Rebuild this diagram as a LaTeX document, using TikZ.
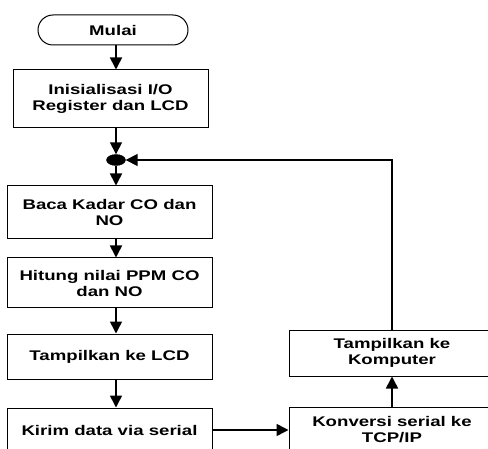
\documentclass[tikz,border=0pt]{standalone}
\usepackage{fontspec}
\newfontfamily\flowfont{Liberation Sans}[FakeStretch=1.33]
\usetikzlibrary{arrows.meta,shapes.geometric,shapes.misc}
\tikzset{
  blok/.style={draw,line width=1pt,align=center,inner sep=0pt,
    font=\flowfont\fontsize{14}{16}\selectfont\bfseries},
  panah/.style={line width=1.6pt,-{Triangle[width=12pt,length=12pt]}}
}

\begin{document}
\begin{tikzpicture}[x=1pt,y=1pt]
  \useasboundingbox (0,0) rectangle (488,448);
  \clip (0,0) rectangle (488,448);
  % kolom kiri
  \node[blok,rounded rectangle,minimum width=150,minimum height=30] (mulai) at (113,418) {Mulai};
  \node[blok,minimum width=195,minimum height=58] (init) at (110.5,349) {Inisialisasi I/O\\Register dan LCD};
  \node[draw,fill,ellipse,inner sep=0pt,minimum width=19,minimum height=11] (dot) at (116,288) {};
  \node[blok,minimum width=205,minimum height=53] (baca) at (109.5,235.5) {Baca Kadar CO dan\\NO};
  \node[blok,minimum width=205,minimum height=50] (hitung) at (109.5,165) {Hitung nilai PPM CO\\dan NO};
  \node[blok,minimum width=205,minimum height=45] (lcd) at (109.5,91.5) {Tampilkan ke LCD};
  \node[blok,minimum width=205,minimum height=44] (kirim) at (109.5,18) {Kirim data via serial};
  % kolom kanan
  \node[blok,minimum width=206,minimum height=46] (konv) at (392,18) {Konversi serial ke\\TCP/IP};
  \node[blok,minimum width=206,minimum height=46] (komp) at (392,95) {Tampilkan ke\\Komputer};

  \draw[panah] (mulai.south -| dot) -- (init.north -| dot);
  \draw[panah] (init.south -| dot) -- (dot.north);
  \draw[panah] (dot.south) -- (baca.north -| dot);
  \draw[panah] (baca.south -| dot) -- (hitung.north -| dot);
  \draw[panah] (hitung.south -| dot) -- (lcd.north -| dot);
  \draw[panah] (lcd.south -| dot) -- (kirim.north -| dot);
  \draw[panah] (kirim.east) -- (konv.west);
  \draw[panah] (konv.north) -- (komp.south);
  \draw[panah] (komp.north) |- (dot.east);
\end{tikzpicture}
\end{document}
